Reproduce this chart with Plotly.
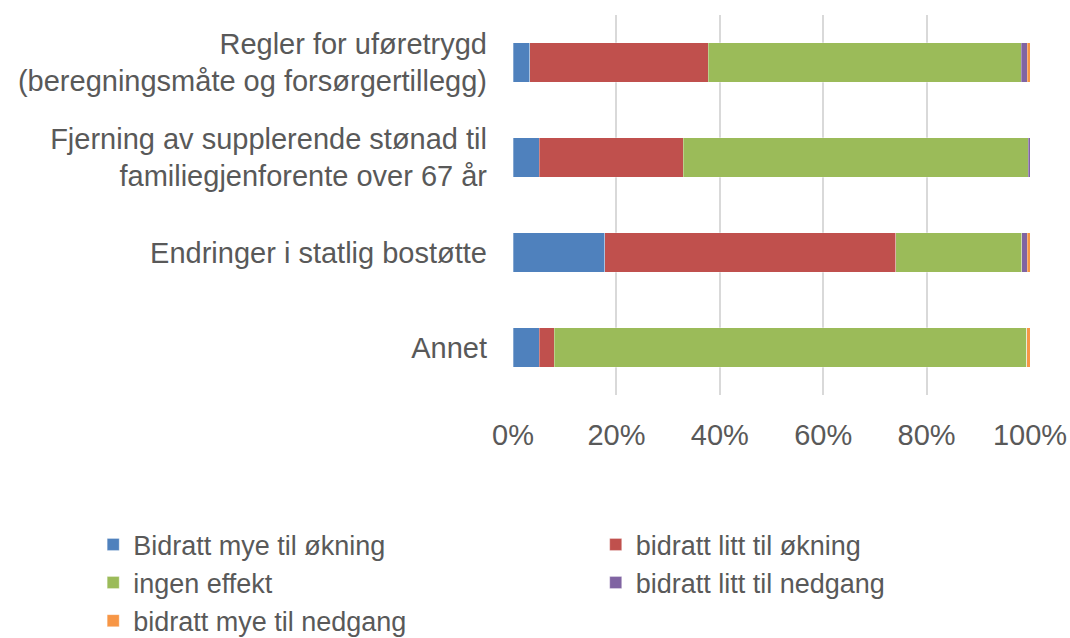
import plotly.graph_objects as go

categories = [
    "Regler for uføretrygd<br>(beregningsmåte og forsørgertillegg)",
    "Fjerning av supplerende stønad til<br>familiegjenforente over 67 år",
    "Endringer i statlig bostøtte",
    "Annet",
]
series_names = [
    "Bidratt mye til økning",
    "bidratt litt til økning",
    "ingen effekt",
    "bidratt litt til nedgang",
    "bidratt mye til nedgang",
]
mye_okning = [3.2, 5.1, 17.7, 5.1]
litt_okning = [34.6, 27.8, 56.3, 2.9]
ingen_effekt = [60.5, 66.8, 24.4, 91.4]
litt_nedgang = [1.2, 0.3, 1.1, 0.0]
mye_nedgang = [0.5, 0.0, 0.5, 0.6]
colors = ["#4F81BD", "#C0504D", "#9BBB59", "#8064A2", "#F79646"]
tick_vals = [0, 20, 40, 60, 80, 100]
tick_text = ["0%", "20%", "40%", "60%", "80%", "100%"]

values = [mye_okning, litt_okning, ingen_effekt, litt_nedgang, mye_nedgang]
legend_ids = ["legend", "legend2", "legend", "legend2", "legend"]

fig = go.Figure()
for name, vals, col, lg in zip(series_names, values, colors, legend_ids):
    fig.add_trace(go.Bar(
        y=categories, x=vals, name=name, orientation="h", legend=lg,
        marker=dict(color=col, line=dict(color="rgba(255,255,255,0.6)", width=0.5)),
    ))

font_family = "Liberation Sans, Arial, Helvetica, sans-serif"
txt = "#595959"
leg_common = dict(orientation="v", yanchor="top", xanchor="left",
                  font=dict(size=27, color=txt), traceorder="normal",
                  bgcolor="rgba(0,0,0,0)", tracegroupgap=0)
fig.update_layout(
    barmode="stack",
    bargap=0.58,
    width=1070, height=638,
    margin=dict(l=513, r=40, t=15, b=243, autoexpand=False),
    plot_bgcolor="white", paper_bgcolor="white",
    font=dict(family=font_family, size=29, color=txt),
    xaxis=dict(range=[0, 100], tickvals=tick_vals, ticktext=tick_text,
               showgrid=True, gridcolor="#D9D9D9", gridwidth=2,
               zeroline=False, showline=False, ticks="",
               ticklabelstandoff=20, automargin=False,
               tickfont=dict(size=29, color=txt)),
    yaxis=dict(autorange="reversed", showgrid=False, zeroline=False,
               showline=False, ticks="", ticklabelstandoff=25, automargin=False,
               tickfont=dict(size=29, color=txt)),
    legend=dict(x=-0.812, y=-0.33, **leg_common),
    legend2=dict(x=0.16, y=-0.33, **leg_common),
    showlegend=True,
)
fig.write_html("out.html", config={"displayModeBar": False},
               post_script="document.body.style.margin='0';")
